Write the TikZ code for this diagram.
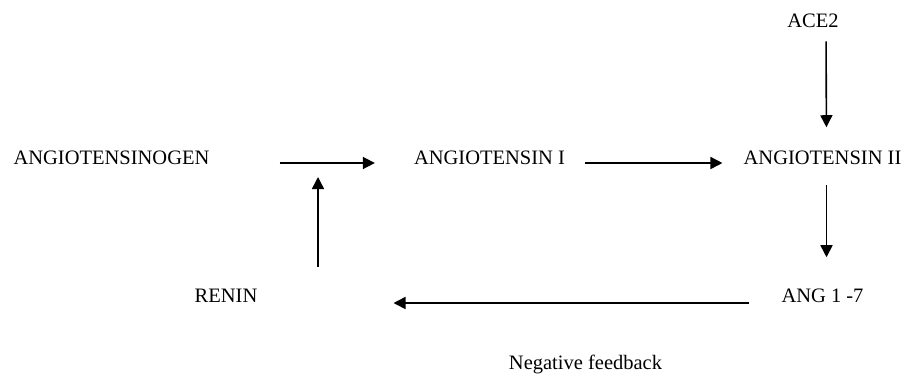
\documentclass[tikz,border=0pt]{standalone}
\usepackage{fontspec}
\setmainfont{Liberation Serif}
\usetikzlibrary{arrows.meta}
\begin{document}
\begin{tikzpicture}[x=1pt,y=-1pt]
      \useasboundingbox (0,0) rectangle (904,376);

      \begin{scope}[every node/.style={inner sep=0pt,anchor=base,font=\fontsize{20.5}{24}\selectfont}]
        \node (agen)  at (111.5,164) {ANGIOTENSINOGEN};
        \node (ang1)  at (489.5,164) {ANGIOTENSIN I};
        \node (ang2)  at (822.5,164) {ANGIOTENSIN II};
        \node (ace2)  at (813,27)    {ACE2};
        \node (ang17) at (822.5,302) {ANG 1 -7};
        \node (renin) at (226,302)   {RENIN};
        \node (negfb) at (585.5,369) {Negative feedback};
      \end{scope}

      \coordinate (rtail) at (318,267);
      \coordinate (rtip)  at (318,177);

      \begin{scope}[every edge/.style={draw,line width=1.6pt,-{Triangle[length=12pt,width=12pt]}}]
        \path ([yshift=1pt]agen.base east) edge[shorten <=70pt,shorten >=39pt] ([yshift=1pt]ang1.base west);
        \path ([yshift=1pt]ang1.base east) edge[shorten <=20pt,shorten >=21pt] ([yshift=1pt]ang2.base west);
        \path ([xshift=13pt]ace2.south)    edge[shorten <=14pt,shorten >=23pt] ([xshift=4pt]ang2.north);
        \path ([xshift=4pt]ang2.south)     edge[shorten <=21pt,shorten >=31pt] ([xshift=4pt]ang17.north);
        \path ([yshift=-1pt]ang17.base west) edge[shorten <=32pt,shorten >=136pt] ([yshift=-1pt]renin.base east);
        \path (rtail) edge (rtip);
      \end{scope}

    \end{tikzpicture}
\end{document}
